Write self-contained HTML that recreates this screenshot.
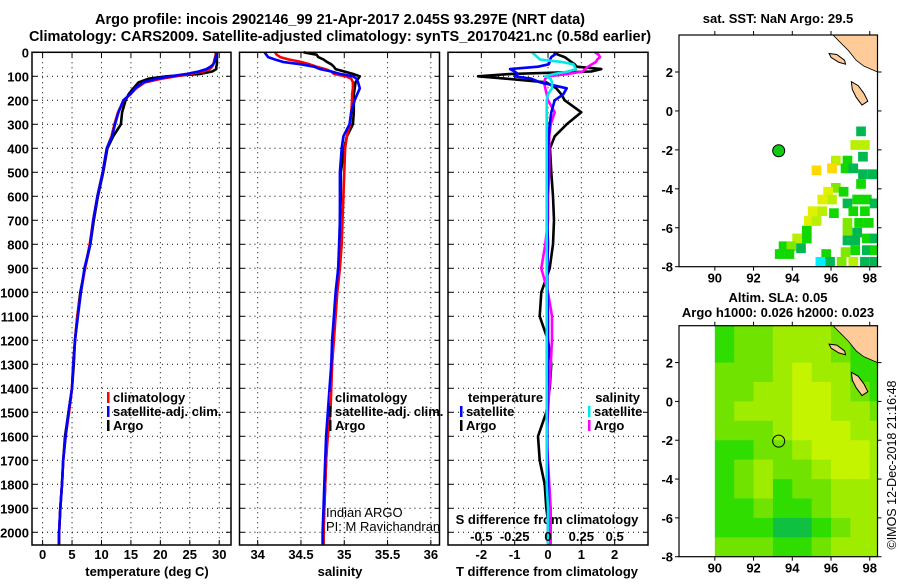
<!DOCTYPE html>
<html><head><meta charset="utf-8"><style>
body{margin:0;background:#fff}
svg text{font-family:"Liberation Sans",sans-serif;font-weight:bold;font-size:13px}
</style></head><body>
<svg id="c" width="900" height="580" xmlns="http://www.w3.org/2000/svg">
<text x="340" y="24" text-anchor="middle" style="font-size:14.5px">Argo profile: incois 2902146_99 21-Apr-2017 2.045S 93.297E (NRT data)</text>
<text x="340" y="41" text-anchor="middle" style="font-size:14.5px">Climatology: CARS2009. Satellite-adjusted climatology: synTS_20170421.nc (0.58d earlier)</text>
<text x="778" y="23" text-anchor="middle">sat. SST: NaN Argo: 29.5</text>
<text x="778" y="302" text-anchor="middle">Altim. SLA: 0.05</text>
<text x="778" y="317" text-anchor="middle">Argo h1000: 0.026 h2000: 0.023</text>
<text x="147" y="576" text-anchor="middle">temperature (deg C)</text>
<text x="340" y="576" text-anchor="middle">salinity</text>
<text x="547" y="576" text-anchor="middle">T difference from climatology</text>
<text x="547" y="524" text-anchor="middle">S difference from climatology</text>
<text x="326" y="517" style="font-weight:normal">Indian ARGO</text>
<text x="326" y="531" style="font-weight:normal">PI: M Ravichandran</text>
<text transform="translate(896,465) rotate(-90)" text-anchor="middle" style="font-weight:normal;font-size:12.5px">©IMOS 12-Dec-2018 21:16:48</text>
</svg>
<script>
const depths=[0,10,20,30,40,50,60,70,80,90,100,110,125,150,175,200,250,300,350,400,500,600,700,800,900,1000,1100,1200,1300,1400,1500,1600,1700,1800,1900,2000,2050];
const tClim=[29.4,29.4,29.3,29.2,29.1,29.0,28.8,28.4,27.3,25.2,22.6,20.2,17.4,15.9,14.9,13.8,12.8,12.2,11.7,10.9,10.2,9.3,8.6,8.0,7.2,6.5,5.9,5.5,5.2,5.0,4.5,3.9,3.5,3.3,3.0,2.8,2.75];
const tSat=[29.6,29.5,29.4,29.3,29.2,29.0,28.5,27.8,26.5,24.5,21.7,19.4,17.1,15.7,14.9,13.7,12.9,12.3,11.8,10.9,10.2,9.3,8.6,8.1,7.1,6.5,6.0,5.5,5.2,5.0,4.4,3.9,3.5,3.3,3.0,2.8,2.75];
const tArgo=[29.6,29.6,29.6,29.6,29.6,29.6,29.5,29.5,28.8,26.8,21.1,18.0,16.3,15.4,14.6,14.1,13.5,13.3,12.0,11.0,10.3,9.4,8.7,8.1,7.2,6.4,5.9,5.5,5.3,5.0,4.4,3.8,3.5,3.3,3.0,2.8,2.8];
const sClim=[34.2,34.22,34.26,34.36,34.5,34.6,34.68,34.78,34.85,34.88,35.02,35.08,35.1,35.1,35.09,35.09,35.08,35.07,35.03,35.01,35.0,34.99,34.98,34.97,34.95,34.92,34.9,34.88,34.86,34.85,34.84,34.81,34.79,34.78,34.77,34.76,34.76];
const sSat=[34.08,34.1,34.12,34.2,34.29,34.5,34.65,34.72,34.85,34.95,35.1,35.14,35.16,35.18,35.15,35.12,35.08,35.06,34.99,34.97,34.95,34.95,34.95,34.94,34.93,34.9,34.88,34.86,34.85,34.83,34.81,34.79,34.78,34.77,34.76,34.75,34.75];
const sArgo=[34.53,34.68,34.7,34.76,34.8,34.85,34.88,34.9,35.0,35.1,35.18,35.16,35.13,35.12,35.11,35.11,35.11,35.1,35.03,35.0,34.96,34.96,34.95,34.95,34.93,34.91,34.89,34.87,34.86,34.84,34.82,34.8,34.79,34.78,34.77,34.76,34.76];
const dTSat=[0.26,0.2,0.1,0.06,0.05,0.02,-0.3,-1.14,-1.0,-0.9,-1.0,-0.5,-0.24,0.56,0.46,0.2,0.1,0.05,0.02,0.0,0.0,-0.02,-0.02,0.0,-0.02,-0.02,0.0,0.0,0.0,-0.02,-0.02,-0.02,-0.02,0.0,0.0,0.0,0.0];
const dTArgo=[0.17,0.3,0.5,0.6,0.7,0.8,0.86,1.6,1.3,-1.1,-2.1,-1.25,-0.06,0.25,0.4,0.5,1.0,0.56,0.2,0.06,0.1,0.15,0.18,0.15,0.05,-0.2,-0.25,0.0,0.1,0.05,-0.05,-0.3,-0.25,-0.1,-0.05,0.05,0.05];
const dSSat=[-0.12,-0.1,-0.08,-0.06,0.1,0.19,0.2,0.21,0.15,0.05,-0.02,0.02,0.03,0.03,0.0,-0.01,-0.01,-0.01,-0.01,-0.01,-0.01,-0.01,-0.01,-0.01,-0.01,-0.01,-0.01,-0.01,-0.01,-0.01,-0.01,-0.01,-0.01,-0.01,0.0,0.0,0.0];
const dSArgo=[0.35,0.38,0.39,0.37,0.36,0.33,0.3,0.28,0.26,0.15,0.0,-0.02,-0.03,-0.02,-0.01,0.0,0.05,0.02,0.01,0.01,0.01,0.0,0.0,-0.02,-0.05,0.0,0.03,0.03,0.02,0.01,0.0,-0.01,0.0,0.01,0.02,0.02,0.02];
const tTicks=[0,5,10,15,20,25,30];
const sTicks=[34,34.5,35,35.5,36];
const sTickLabels=['34','34.5','35','35.5','36'];
const dTTicks=[-2,-1,0,1,2];
const dSTicks=[-0.5,-0.25,0,0.25,0.5];
const dSTickLabels=['-0.5','-0.25','0','0.25','0.5'];
const depthTicks=[0,100,200,300,400,500,600,700,800,900,1000,1100,1200,1300,1400,1500,1600,1700,1800,1900,2000];
const lonTicks=[90,92,94,96,98];
const latTicks=[2,0,-2,-4,-6,-8];
const slaGrid=[
[1,2,2,3,3,3,2,1,1],[1,2,2,3,3,3,2,1,1],[2,2,2,3,4,3,3,1,1],[2,2,3,3,4,4,3,2,1],
[2,3,3,3,4,4,3,3,2],[2,2,2,3,4,4,4,3,3],[1,1,2,2,3,4,4,4,3],[1,2,3,2,2,3,4,4,3],
[1,2,3,1,2,2,3,3,3],[1,1,2,1,1,2,3,3,3],[1,1,1,0,0,1,2,3,3],[2,2,2,1,1,2,3,3,3]];
const sstCells=[[97.3,-1.3,0],[97.0,-2.0,3],[97.5,-2.0,3],[97.4,-2.6,0],[96.0,-2.8,3],[96.6,-2.8,1],[95.0,-3.3,5],[95.8,-3.2,5],[96.5,-3.2,1],[96.9,-3.2,0],[97.4,-3.5,0],[97.9,-3.5,0],[97.3,-4.0,1],[96.0,-4.2,2],[95.6,-4.4,4],[96.4,-4.4,1],[95.3,-4.8,4],[95.8,-4.8,3],[96.6,-5.0,0],[97.1,-4.8,1],[97.6,-4.8,1],[98.0,-5.0,0],[94.8,-5.4,4],[95.3,-5.4,3],[95.9,-5.5,1],[96.9,-5.4,1],[97.5,-5.4,1],[94.6,-5.9,4],[95.0,-5.9,3],[96.6,-6.0,2],[97.2,-6.0,1],[97.7,-6.0,1],[94.5,-6.4,1],[96.6,-6.4,2],[97.1,-6.5,0],[94.0,-6.8,3],[94.5,-6.8,1],[96.6,-6.9,0],[97.0,-6.9,0],[97.6,-6.8,1],[98.0,-6.8,0],[93.3,-7.2,1],[93.7,-7.2,2],[94.2,-7.3,0],[93.1,-7.6,1],[93.6,-7.6,1],[95.5,-7.6,1],[96.5,-7.5,2],[97.0,-7.4,1],[97.6,-7.4,0],[98.0,-7.4,1],[95.7,-8.0,0],[96.3,-8.0,2],[96.9,-8.0,3],[97.5,-8.0,0],[98.0,-8.0,0],[95.2,-8.0,6]];
const slaColors=['#10c040','#30dd00','#70e400','#a0ec00','#c4f400'];
const sstColors=['#00b850','#10d800','#80e800','#b8f000','#e0f000','#ffd800','#00f0ff'];

const NS='http://www.w3.org/2000/svg',svg=document.getElementById('c');
function mk(tag,at,parent){const e=document.createElementNS(NS,tag);for(const k in at)e.setAttribute(k,at[k]);(parent||svg).appendChild(e);return e;}
const Y0=52.3,Y1=545,DMAX=2053;
const yD=d=>Y0+(d/DMAX)*(Y1-Y0);
function lin(d0,d1,p0,p1){return v=>p0+(v-d0)/(d1-d0)*(p1-p0);}
const panels=[
 {name:'temperature-panel',x0:32,x1:231,f:lin(-1.8,32,32,231)},
 {name:'salinity-panel',x0:239.5,x1:439.5,f:lin(33.79,36.1,239.5,439.5)},
 {name:'difference-panel',x0:448,x1:648,f:lin(-3,3,448,648)}];
const fS=lin(-0.75,0.75,448,648);
function grid(p,xt){
 const g=mk('g',{});
 
 
 xt.forEach(v=>{const x=p.f(v);mk('line',{x1:x,x2:x,y1:Y0,y2:Y1,stroke:'#000','stroke-width':1,'stroke-dasharray':'1,4'},g);
  mk('line',{x1:x,x2:x,y1:Y1,y2:Y1-5,stroke:'#000'},g);mk('line',{x1:x,x2:x,y1:Y0,y2:Y0+5,stroke:'#000'},g);});
 depthTicks.forEach(d=>{const y=yD(d);mk('line',{x1:p.x0,x2:p.x1,y1:y,y2:y,stroke:'#000','stroke-width':1,'stroke-dasharray':'1,4'},g);
  mk('line',{x1:p.x0,x2:p.x0+5,y1:y,y2:y,stroke:'#000'},g);mk('line',{x1:p.x1-5,x2:p.x1,y1:y,y2:y,stroke:'#000'},g);});
}
grid(panels[0],tTicks);grid(panels[1],sTicks);grid(panels[2],dTTicks);
function line(vals,f,color,name){
 const pts=vals.map((v,i)=>f(v).toFixed(1)+','+yD(depths[i]).toFixed(1)).join(' ');
 const e=mk('polyline',{points:pts,fill:'none',stroke:color,'stroke-width':2.6,'stroke-linejoin':'round'});
 
 
}
line(tArgo,panels[0].f,'#000','argo-temperature-line');
line(tClim,panels[0].f,'#ff0000','climatology-temperature-line');
line(tSat,panels[0].f,'#0000ff','satellite-temperature-line');
line(sArgo,panels[1].f,'#000','argo-salinity-line');
line(sClim,panels[1].f,'#ff0000','climatology-salinity-line');
line(sSat,panels[1].f,'#0000ff','satellite-salinity-line');
line(dTArgo,panels[2].f,'#000','argo-t-diff-line');
line(dSArgo,fS,'#ff00ff','argo-s-diff-line');
line(dTSat,panels[2].f,'#0000ff','satellite-t-diff-line');
line(dSSat,fS,'#00e8e8','satellite-s-diff-line');
panels.forEach(p=>{const r=mk('rect',{x:p.x0,y:Y0,width:p.x1-p.x0,height:Y1-Y0,fill:'none',stroke:'#000','stroke-width':1.5});
 
 });
function txt(s,x,y,anchor,name,extra){const t=mk('text',Object.assign({x:x,y:y,'text-anchor':anchor||'middle'},extra||{}));t.textContent=s;
 
 return t;}
depthTicks.forEach(d=>txt(String(d),29,yD(d)+5,'end','depth-tick-label'));
tTicks.forEach(v=>txt(String(v),panels[0].f(v),559,'middle','temperature-tick-label'));
sTicks.forEach((v,i)=>txt(sTickLabels[i],panels[1].f(v),559,'middle','salinity-tick-label'));
dTTicks.forEach(v=>txt(String(v),panels[2].f(v),559,'middle','t-diff-tick-label'));
dSTicks.forEach((v,i)=>txt(dSTickLabels[i],fS(v),541,'middle','s-diff-tick-label'));
function legend(x,y,color,label,name){
 const g=mk('g',{});
 
 
 mk('rect',{x:x,y:y-10,width:2.5,height:11,fill:color},g);
 const t=mk('text',{x:x+6,y:y},g);t.textContent=label;
}
legend(107,402,'#ff0000','climatology','legend-climatology');
legend(107,416,'#0000ff','satellite-adj. clim.','legend-satellite-adj');
legend(107,430,'#000','Argo','legend-argo');
legend(329,402,'#ff0000','climatology','legend-s-climatology');
legend(329,416,'#000','satellite-adj. clim.','legend-s-satellite-adj');
legend(329,430,'#000','Argo','legend-s-argo');
txt('temperature',468,402,'start','legend-temperature-heading');
legend(460,416,'#0000ff','satellite','legend-t-satellite');
legend(460,430,'#000','Argo','legend-t-argo');
txt('salinity',640,402,'end','legend-salinity-heading');
legend(588,416,'#00e8e8','satellite','legend-s-satellite');
legend(588,430,'#ff00ff','Argo','legend-s-argo-diff');
const MX0=679,MX1=877.5,lonF=lin(88.15,98.4,MX0,MX1);
function drawMap(top,bot,name,kind){
 const latF=lin(-8,3.9,bot,top);
 const g=mk('g',{});
 
 
 const cp='clip-'+kind;const cl=mk('clipPath',{id:cp},g);mk('rect',{x:MX0,y:top,width:MX1-MX0,height:bot-top},cl);
 const inner=mk('g',{'clip-path':'url(#'+cp+')'},g);
 if(kind==='sla'){
  slaGrid.forEach((row,r)=>row.forEach((v,c)=>{const x=lonF(90+c),y=latF(4-r);
   const e=mk('rect',{x:x,y:y,width:lonF(91+c)-x+0.5,height:latF(3-r)-y+0.5,fill:slaColors[v]},inner);
   
   }));
 }else{
  sstCells.forEach(s=>{const x=lonF(s[0]),y=latF(s[1]+0.5);
   const e=mk('rect',{x:x,y:y,width:lonF(s[0]+0.5)-x,height:latF(s[1])-y,fill:sstColors[s[2]]},inner);
   
   });
 }
 const land=mk('path',{d:`M${lonF(96.1)},${top} L${lonF(96.5)},${latF(3.5)} L${lonF(96.9)},${latF(3.1)} L${lonF(97.3)},${latF(2.6)} L${lonF(97.7)},${latF(2.3)} L${lonF(98.4)},${latF(2.0)} L${MX1},${top} Z`,fill:'#ffcc99',stroke:'#000','stroke-width':0.8},inner);
 
 
 const i1=mk('path',{d:`M${lonF(95.9)},${latF(2.95)} L${lonF(96.3)},${latF(2.9)} L${lonF(96.7)},${latF(2.6)} L${lonF(96.75)},${latF(2.4)} L${lonF(96.4)},${latF(2.5)} L${lonF(96.0)},${latF(2.75)} Z`,fill:'#ffcc99',stroke:'#000','stroke-width':1},inner);
 
 
 const i2=mk('path',{d:`M${lonF(97.05)},${latF(1.5)} L${lonF(97.4)},${latF(1.3)} L${lonF(97.7)},${latF(0.9)} L${lonF(97.9)},${latF(0.5)} L${lonF(97.6)},${latF(0.3)} L${lonF(97.3)},${latF(0.7)} L${lonF(97.1)},${latF(1.1)} Z`,fill:'#ffcc99',stroke:'#000','stroke-width':1},inner);
 
 
 mk('rect',{x:MX0,y:top,width:MX1-MX0,height:bot-top,fill:'none',stroke:'#000','stroke-width':1.2},g);
 const cx=lonF(93.297),cy=latF(-2.045);
 mk('circle',{cx:cx,cy:cy,r:6,fill:kind==='sst'?'#10cc10':'none',stroke:'#000','stroke-width':1},g);
 lonTicks.forEach(v=>{const x=lonF(v);mk('line',{x1:x,x2:x,y1:bot,y2:bot+4,stroke:'#000'},g);mk('line',{x1:x,x2:x,y1:top,y2:top-4,stroke:'#000'},g);
  txt(String(v),x,bot+16,'middle','longitude-tick-label');});
 latTicks.forEach(v=>{const y=latF(v);mk('line',{x1:MX0,x2:MX0-4,y1:y,y2:y,stroke:'#000'},g);mk('line',{x1:MX1,x2:MX1+4,y1:y,y2:y,stroke:'#000'},g);
  txt(String(v),673,y+5,'end','latitude-tick-label');});
}
drawMap(35,266.7,'sst-map','sst');
drawMap(325.7,556.7,'sla-map','sla');
</script>
</body></html>
